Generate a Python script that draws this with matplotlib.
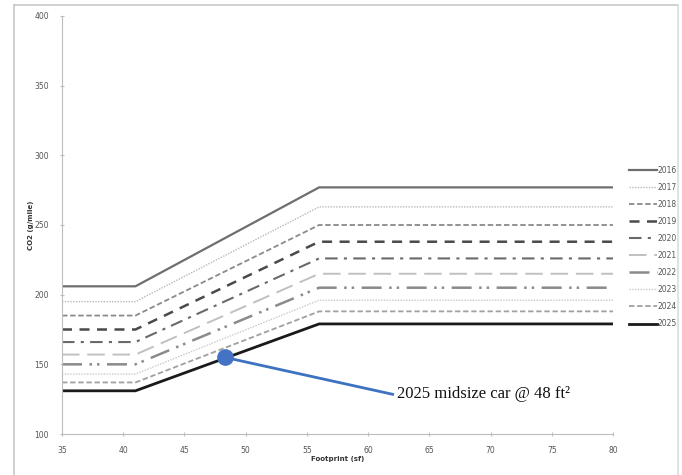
import matplotlib
matplotlib.use("Agg")
import matplotlib.pyplot as plt
from matplotlib.lines import Line2D

years = ["2016", "2017", "2018", "2019", "2020", "2021", "2022", "2023", "2024", "2025"]
footprint = [35, 41, 56, 80]
co2_low = [206, 195, 185, 175, 166, 157, 150, 143, 137, 131]
co2_high = [277, 263, 250, 238, 226, 215, 205, 196, 188, 179]

point_x, point_y = 48.3, 155
label_x, label_y = 62.0, 128.5
label_text = "2025 midsize car @ 48 ft²"

styles = [
    dict(color="#6e6e6e", lw=1.6, ls="-"),
    dict(color="#b8b8b8", lw=1.0, ls=(0, (1, 1))),
    dict(color="#8a8a8a", lw=1.3, ls=(0, (3, 1.5))),
    dict(color="#4a4a4a", lw=1.8, ls=(0, (4, 3))),
    dict(color="#6a6a6a", lw=1.5, ls=(0, (6, 3, 1.5, 3))),
    dict(color="#c0c0c0", lw=1.4, ls=(0, (9, 4))),
    dict(color="#8a8a8a", lw=1.8, ls=(0, (8, 3, 1, 2, 1, 3))),
    dict(color="#c8c8c8", lw=1.0, ls=(0, (1, 1))),
    dict(color="#a0a0a0", lw=1.3, ls=(0, (3, 1.5))),
    dict(color="#1a1a1a", lw=2.0, ls="-"),
]

fig = plt.figure(figsize=(6.82, 4.75), dpi=100)
ax = fig.add_axes([62 / 682, 1 - 434 / 475, (613 - 62) / 682, (434 - 16) / 475])

handles = []
for yr, lo, hi, st in zip(years, co2_low, co2_high, styles):
    ys = [lo, lo, hi, hi]
    ax.plot(footprint, ys, solid_capstyle="butt", dash_capstyle="butt", **st)
    handles.append(Line2D([0], [0], **st))

ax.plot([point_x, label_x], [point_y, label_y], color="#3d72c0", lw=2.0, zorder=5)
ax.plot([point_x], [point_y], "o", color="#4472c4", ms=11, zorder=6)
ax.text(label_x + 0.4, label_y, label_text, family="Liberation Serif", fontsize=12,
        va="center", ha="left", color="#111111")

ax.set_xlim(35, 80)
ax.set_ylim(100, 400)
ax.set_xticks(range(35, 81, 5))
ax.set_yticks(range(100, 401, 50))
for s in ["top", "right"]:
    ax.spines[s].set_visible(False)
for s in ["left", "bottom"]:
    ax.spines[s].set_color("#bdbdbd")
    ax.spines[s].set_linewidth(0.8)
ax.tick_params(axis="both", labelsize=5.5, colors="#bdbdbd", labelcolor="#555555",
               length=3, width=0.8, direction="inout")
ax.tick_params(axis="x", pad=7)
ax.tick_params(axis="y", pad=8)
ax.set_xlabel("Footprint (sf)", fontsize=5, color="#333333", fontweight="bold", labelpad=1)
ax.set_ylabel("CO2 (g/mile)", fontsize=5, color="#333333", fontweight="bold", labelpad=0)

fig.legend(handles, years, loc="upper left", bbox_to_anchor=(629 / 682, 1 - 166 / 475),
           frameon=False, fontsize=5.5, handlelength=3.6, handletextpad=0.1,
           labelspacing=1.05, borderpad=0.0, borderaxespad=0.0, labelcolor="#555555")

# outer chart border (partially cropped)
fig.add_artist(Line2D([14 / 682, 678 / 682], [1 - 5 / 475, 1 - 5 / 475], color="#c8c8c8", lw=1.2))
fig.add_artist(Line2D([14 / 682, 14 / 682], [0, 1 - 5 / 475], color="#c8c8c8", lw=1.2))
fig.add_artist(Line2D([678 / 682, 678 / 682], [0, 1 - 5 / 475], color="#dddddd", lw=1.2))

fig.savefig("out.png", dpi=100)
